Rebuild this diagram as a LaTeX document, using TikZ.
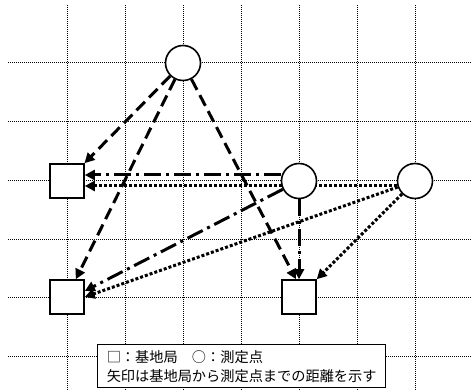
\documentclass[tikz,border=0pt]{standalone}
\usepackage{fontspec}
\newfontfamily\jp{Noto Sans CJK JP}
\usetikzlibrary{arrows.meta}
\pgfdeclarelayer{gridl}
\pgfdeclarelayer{arr}
\pgfsetlayers{gridl,arr,main}
\begin{document}
\begin{tikzpicture}[x=1pt,y=-1pt,
  gridline/.style={line width=1pt, dash pattern=on 1pt off 1pt},
  stn/.style={draw, fill=white, line width=1.6pt, minimum size=34pt, inner sep=0pt},
  mpt/.style={circle, draw, fill=white, line width=1.6pt, minimum size=35pt, inner sep=0pt},
  conn/.style={line width=3pt, -{Triangle[length=10pt,width=10pt]}},
  dsh/.style={conn, dash pattern=on 12pt off 6pt},
  dd/.style={conn, dash pattern=on 17pt off 5pt on 3pt off 5pt},
  dt/.style={conn, dash pattern=on 3pt off 2pt},
  legend/.style={draw, fill=white, line width=1.3pt, minimum width=288pt, minimum height=43pt, inner sep=0pt, align=left, font=\jp\fontsize{14.2pt}{19pt}\selectfont}
]
\useasboundingbox (0,0) rectangle (471,390);
\begin{pgfonlayer}{gridl}
  \foreach \x in {67,125,183,241,299,357,415} \draw[gridline] (\x,5) -- (\x,390);
  \foreach \y in {63,122,181,239,297,356} \draw[gridline] (8,\y) -- (471,\y);
\end{pgfonlayer}
% measurement points
\node[mpt] (C1) at (183,63) {};
\node[mpt] (C2) at (299,181) {};
\node[mpt] (C3) at (415,181) {};
% base stations
\node[stn] (S1) at (67,181) {};
\node[stn] (S2) at (67,297) {};
\node[stn] (S3) at (299,297) {};
\begin{pgfonlayer}{arr}
  \draw[dsh] (C1) -- (S1);
  \draw[dsh] (C1) -- (S2);
  \draw[dsh] (C1) -- ([xshift=-3pt]S3.north);
  \draw[dd] ([yshift=6pt]C2.west) -- ([yshift=6pt]S1.east);
  \draw[dd] (C2) -- ([yshift=6pt]S2.east);
  \draw[dd] (C2) -- (S3);
  \draw[dt] ([yshift=-5pt]C3.west) -- ([yshift=-5pt]S1.east);
  \draw[dt] (C3) -- (S2.east);
  \draw[dt] (C3) -- (S3);
\end{pgfonlayer}
\node[legend, anchor=north west] (L) at (97,344) {□：基地局　○：測定点\\矢印は基地局から測定点までの距離を示す};
\end{tikzpicture}
\end{document}
